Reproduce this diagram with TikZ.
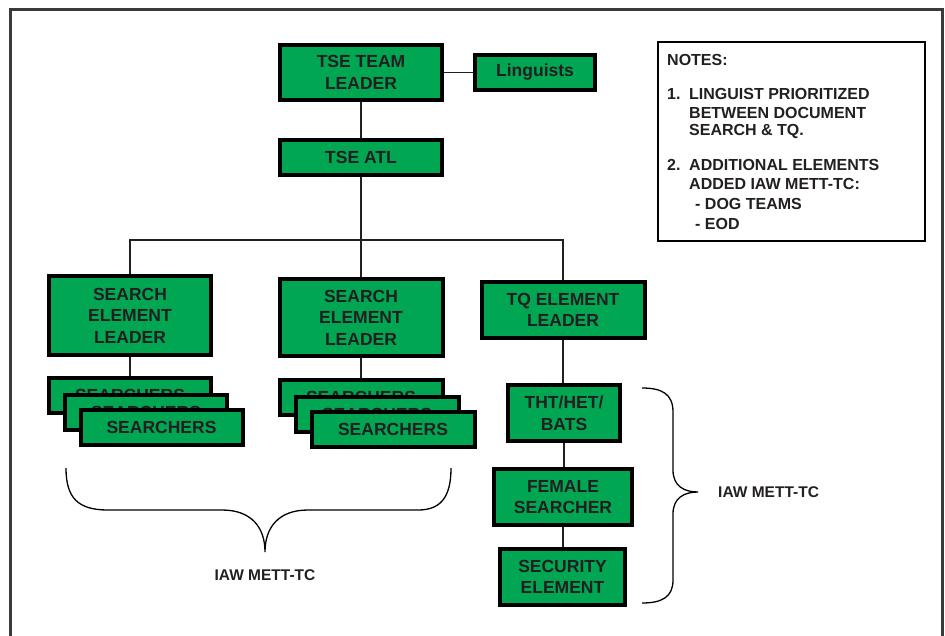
\documentclass[tikz,border=0pt]{standalone}
\usepackage{fontspec}
\setmainfont{Liberation Sans}
\definecolor{boxgreen}{HTML}{00A651}
\definecolor{txt}{HTML}{231F20}
\definecolor{framegray}{HTML}{3A3A3A}
\tikzset{
  box/.style={draw=black, line width=4pt, fill=boxgreen, text=txt, align=center, inner sep=0pt,
    font=\fontsize{17.5}{21.5}\selectfont\bfseries},
  conn/.style={draw=txt, line width=1.2pt},
  brace/.style={draw=black, line width=1.3pt},
  notetxt/.style={anchor=west, inner sep=0pt, text=txt, font=\fontsize{16}{19}\selectfont\bfseries},
  lbl/.style={inner sep=0pt, text=txt, font=\fontsize{15.5}{18}\selectfont\bfseries}
}
\begin{document}
\begin{tikzpicture}[x=1pt,y=-1pt]
\useasboundingbox (0,0) rectangle (945,635);
\clip (0,0) rectangle (945,635);
% outer frame
\draw[draw=framegray, line width=3pt] (10,9) rectangle (942,660);

% connectors (drawn first)
\coordinate (busL) at (130,240);
\coordinate (busR) at (563,240);

% boxes
\node[box, minimum width=162pt, minimum height=55pt] (tl) at (361,72.5) {TSE TEAM\\LEADER};
\node[box, minimum width=120pt, minimum height=35pt] (ling) at (535,72.5) {Linguists};
\node[box, minimum width=162pt, minimum height=35pt] (atl) at (361,157.5) {TSE ATL};
\node[box, minimum width=162pt, minimum height=79pt] (sel1) at (130,315.5) {SEARCH\\ELEMENT\\LEADER};
\node[box, minimum width=163pt, minimum height=77pt] (sel2) at (361,317.5) {SEARCH\\ELEMENT\\LEADER};
\node[box, minimum width=163pt, minimum height=56pt] (tq) at (563,310) {TQ ELEMENT\\LEADER};

% searchers stack 1
\node[box, minimum width=162pt, minimum height=35pt] (sa1) at (130,395.5) {SEARCHERS};
\node[box, minimum width=162pt, minimum height=35pt] (sa2) at (146,412) {SEARCHERS};
\node[box, minimum width=162pt, minimum height=35pt] (sa3) at (161.5,427.5) {SEARCHERS};
% searchers stack 2
\node[box, minimum width=163pt, minimum height=35pt] (sb1) at (361,397.5) {SEARCHERS};
\node[box, minimum width=163pt, minimum height=35pt] (sb2) at (377,414) {SEARCHERS};
\node[box, minimum width=163pt, minimum height=35pt] (sb3) at (393,429.5) {SEARCHERS};

% TQ chain
\node[box, minimum width=112pt, minimum height=56pt] (tht) at (564,413) {THT/HET/\\BATS};
\node[box, minimum width=138pt, minimum height=56pt] (fem) at (563,497) {FEMALE\\SEARCHER};
\node[box, minimum width=125pt, minimum height=56pt] (sec) at (562.5,577) {SECURITY\\ELEMENT};

% connectors
\draw[conn] (tl.east) -- (ling.west);
\draw[conn] (tl.south) -- (atl.north);
\draw[conn] (atl.south) -- (atl.south |- busL);
\draw[conn] (sel1.north) -- (busL) -- (busR) -- (tq.north);
\draw[conn] (sel2.north) -- (sel2.north |- busL);
\draw[conn] (sel1.south) -- (sa1.north);
\draw[conn] (sel2.south) -- (sb1.north);
\draw[conn] (tq.south) -- (tq.south |- tht.north);
\draw[conn] (tht.south) -- (tht.south |- fem.north);
\draw[conn] (fem.south) -- (fem.south |- sec.north);

% bottom brace
\draw[brace] (66,468) .. controls (66,498) and (78,510) .. (108,510)
  -- (222,510) .. controls (252,510) and (265,528) .. (265,552)
  .. controls (265,528) and (278,510) .. (308,510)
  -- (418,510) .. controls (440,510) and (451,498) .. (451,468);
\node[lbl] (lblA) at (265,575) {IAW METT-TC};

% right brace
\draw[brace] (642,388) .. controls (662,388) and (673,394) .. (673,412)
  -- (673,470) .. controls (673,486) and (684,492) .. (698,492)
  .. controls (684,492) and (673,498) .. (673,514)
  -- (673,580) .. controls (673,597) and (662,603) .. (642,603);
\node[lbl, anchor=west] (lblB) at (718,492) {IAW METT-TC};

% notes
\node[draw=black, line width=2pt, minimum width=267pt, minimum height=199pt, inner sep=0pt] (notes) at (791.5,141.5) {};
\node[notetxt] (n0) at (667,60) {NOTES:};
\node[notetxt] (n1a) at (667,94) {1.};
\node[notetxt] (n1b) at (689,94) {LINGUIST PRIORITIZED};
\node[notetxt] (n1c) at (689,112.5) {BETWEEN DOCUMENT};
\node[notetxt] (n1d) at (689,131) {SEARCH \& TQ.};
\node[notetxt] (n2a) at (667,165) {2.};
\node[notetxt] (n2b) at (689,165) {ADDITIONAL ELEMENTS};
\node[notetxt] (n2c) at (689,183.5) {ADDED IAW METT-TC:};
\node[notetxt] (n2d) at (695,204) {- DOG TEAMS};
\node[notetxt] (n2e) at (695,224) {- EOD};
\end{tikzpicture}
\end{document}
